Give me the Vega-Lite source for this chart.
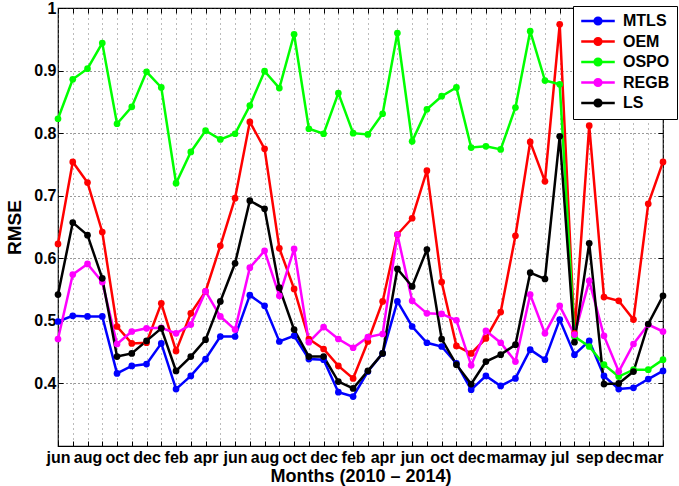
{
  "$schema": "https://vega.github.io/schema/vega-lite/v6.json",
  "width": 605,
  "height": 438,
  "autosize": {"type": "none"},
  "padding": {"left": 58, "top": 8, "right": 16, "bottom": 40},
  "background": "white",
  "config": {
    "view": {"stroke": "black", "strokeWidth": 1.2},
    "font": "Liberation Sans"
  },
  "data": {
    "values": [
      {"i": 0, "MTLS": 0.499, "OEM": 0.623, "OSPO": 0.823, "REGB": 0.471, "LS": 0.542},
      {"i": 1, "MTLS": 0.508, "OEM": 0.754, "OSPO": 0.886, "REGB": 0.574, "LS": 0.657},
      {"i": 2, "MTLS": 0.507, "OEM": 0.721, "OSPO": 0.903, "REGB": 0.591, "LS": 0.637},
      {"i": 3, "MTLS": 0.507, "OEM": 0.642, "OSPO": 0.944, "REGB": 0.562, "LS": 0.568},
      {"i": 4, "MTLS": 0.416, "OEM": 0.491, "OSPO": 0.815, "REGB": 0.463, "LS": 0.443},
      {"i": 5, "MTLS": 0.428, "OEM": 0.464, "OSPO": 0.842, "REGB": 0.483, "LS": 0.448},
      {"i": 6, "MTLS": 0.431, "OEM": 0.465, "OSPO": 0.898, "REGB": 0.488, "LS": 0.468},
      {"i": 7, "MTLS": 0.464, "OEM": 0.528, "OSPO": 0.873, "REGB": 0.489, "LS": 0.488},
      {"i": 8, "MTLS": 0.391, "OEM": 0.452, "OSPO": 0.720, "REGB": 0.480, "LS": 0.420},
      {"i": 9, "MTLS": 0.412, "OEM": 0.512, "OSPO": 0.770, "REGB": 0.494, "LS": 0.443},
      {"i": 10, "MTLS": 0.439, "OEM": 0.547, "OSPO": 0.804, "REGB": 0.547, "LS": 0.470},
      {"i": 11, "MTLS": 0.475, "OEM": 0.620, "OSPO": 0.790, "REGB": 0.507, "LS": 0.531},
      {"i": 12, "MTLS": 0.475, "OEM": 0.696, "OSPO": 0.799, "REGB": 0.486, "LS": 0.592},
      {"i": 13, "MTLS": 0.541, "OEM": 0.818, "OSPO": 0.844, "REGB": 0.585, "LS": 0.692},
      {"i": 14, "MTLS": 0.524, "OEM": 0.775, "OSPO": 0.899, "REGB": 0.612, "LS": 0.679},
      {"i": 15, "MTLS": 0.467, "OEM": 0.616, "OSPO": 0.872, "REGB": 0.540, "LS": 0.553},
      {"i": 16, "MTLS": 0.476, "OEM": 0.551, "OSPO": 0.958, "REGB": 0.615, "LS": 0.486},
      {"i": 17, "MTLS": 0.439, "OEM": 0.471, "OSPO": 0.807, "REGB": 0.466, "LS": 0.443},
      {"i": 18, "MTLS": 0.438, "OEM": 0.455, "OSPO": 0.799, "REGB": 0.490, "LS": 0.443},
      {"i": 19, "MTLS": 0.386, "OEM": 0.428, "OSPO": 0.864, "REGB": 0.471, "LS": 0.403},
      {"i": 20, "MTLS": 0.379, "OEM": 0.408, "OSPO": 0.800, "REGB": 0.457, "LS": 0.392},
      {"i": 21, "MTLS": 0.419, "OEM": 0.467, "OSPO": 0.798, "REGB": 0.474, "LS": 0.420},
      {"i": 22, "MTLS": 0.448, "OEM": 0.531, "OSPO": 0.831, "REGB": 0.479, "LS": 0.448},
      {"i": 23, "MTLS": 0.531, "OEM": 0.638, "OSPO": 0.960, "REGB": 0.638, "LS": 0.583},
      {"i": 24, "MTLS": 0.491, "OEM": 0.664, "OSPO": 0.787, "REGB": 0.532, "LS": 0.555},
      {"i": 25, "MTLS": 0.465, "OEM": 0.740, "OSPO": 0.838, "REGB": 0.512, "LS": 0.614},
      {"i": 26, "MTLS": 0.459, "OEM": 0.562, "OSPO": 0.859, "REGB": 0.511, "LS": 0.471},
      {"i": 27, "MTLS": 0.432, "OEM": 0.460, "OSPO": 0.873, "REGB": 0.501, "LS": 0.430},
      {"i": 28, "MTLS": 0.390, "OEM": 0.448, "OSPO": 0.777, "REGB": 0.429, "LS": 0.399},
      {"i": 29, "MTLS": 0.412, "OEM": 0.472, "OSPO": 0.779, "REGB": 0.484, "LS": 0.435},
      {"i": 30, "MTLS": 0.396, "OEM": 0.514, "OSPO": 0.774, "REGB": 0.465, "LS": 0.446},
      {"i": 31, "MTLS": 0.408, "OEM": 0.636, "OSPO": 0.841, "REGB": 0.435, "LS": 0.462},
      {"i": 32, "MTLS": 0.454, "OEM": 0.786, "OSPO": 0.963, "REGB": 0.542, "LS": 0.577},
      {"i": 33, "MTLS": 0.438, "OEM": 0.723, "OSPO": 0.884, "REGB": 0.480, "LS": 0.567},
      {"i": 34, "MTLS": 0.502, "OEM": 0.974, "OSPO": 0.878, "REGB": 0.524, "LS": 0.795},
      {"i": 35, "MTLS": 0.446, "OEM": 0.480, "OSPO": 0.475, "REGB": 0.478, "LS": 0.466},
      {"i": 36, "MTLS": 0.468, "OEM": 0.812, "OSPO": 0.459, "REGB": 0.564, "LS": 0.624},
      {"i": 37, "MTLS": 0.412, "OEM": 0.538, "OSPO": 0.430, "REGB": 0.476, "LS": 0.399},
      {"i": 38, "MTLS": 0.391, "OEM": 0.532, "OSPO": 0.411, "REGB": 0.419, "LS": 0.400},
      {"i": 39, "MTLS": 0.393, "OEM": 0.502, "OSPO": 0.422, "REGB": 0.463, "LS": 0.419},
      {"i": 40, "MTLS": 0.407, "OEM": 0.687, "OSPO": 0.422, "REGB": 0.494, "LS": 0.495},
      {"i": 41, "MTLS": 0.420, "OEM": 0.754, "OSPO": 0.438, "REGB": 0.483, "LS": 0.540}
    ]
  },
  "transform": [
    {"fold": ["MTLS", "OEM", "OSPO", "REGB", "LS"], "as": ["series", "rmse"]}
  ],
  "layer": [
    {
      "mark": {"type": "line", "strokeWidth": 2.5, "point": {"filled": true, "size": 45, "opacity": 1}},
      "encoding": {
        "x": {
          "field": "i",
          "type": "quantitative",
          "scale": {"domain": [0, 41], "nice": false, "zero": false},
          "axis": {
            "orient": "bottom",
            "values": [0,1,2,3,4,5,6,7,8,9,10,11,12,13,14,15,16,17,18,19,20,21,22,23,24,25,26,27,28,29,30,31,32,33,34,35,36,37,38,39,40,41],
            "labelExpr": "datum.value % 2 == 0 ? ['jun','aug','oct','dec','feb','apr','jun','aug','oct','dec','feb','apr','jun','oct','dec','mar','may','jul','sep','dec','mar'][datum.value / 2] : ''",
            "title": "Months (2010 \u2013 2014)",
            "titleFont": "Liberation Sans",
            "titleFontSize": 18,
            "titleFontWeight": "bold",
            "titleColor": "black",
            "titleBaseline": "alphabetic",
            "titleY": 35,
            "labelFont": "Liberation Sans",
            "labelFontSize": 16,
            "labelFontWeight": "bold",
            "labelColor": "black",
            "labelPadding": 8,
            "labelOverlap": false,
            "labelFlush": false,
            "domain": false,
            "ticks": true,
            "tickSize": -5,
            "tickColor": "black",
            "grid": true,
            "gridDash": [1, 4],
            "gridColor": "#777777",
            "gridWidth": 1
          }
        },
        "y": {
          "field": "rmse",
          "type": "quantitative",
          "scale": {"domain": [0.3, 1.0], "nice": false, "zero": false},
          "axis": {
            "orient": "left",
            "values": [0.4, 0.5, 0.6, 0.7, 0.8, 0.9, 1.0],
            "format": ".1~f",
            "title": "RMSE",
            "titleFont": "Liberation Sans",
            "titleFontSize": 19,
            "titleFontWeight": "bold",
            "titleColor": "black",
            "titlePadding": 9,
            "labelFont": "Liberation Sans",
            "labelFontSize": 16,
            "labelFontWeight": "bold",
            "labelColor": "black",
            "labelPadding": 7,
            "labelFlush": false,
            "domain": false,
            "ticks": true,
            "tickSize": -5,
            "tickColor": "black",
            "grid": true,
            "gridDash": [1, 3],
            "gridColor": "#333333",
            "gridWidth": 1
          }
        },
        "color": {
          "field": "series",
          "type": "nominal",
          "sort": ["MTLS", "OEM", "OSPO", "REGB", "LS"],
          "scale": {
            "domain": ["MTLS", "OEM", "OSPO", "REGB", "LS"],
            "range": ["#0000ff", "#ff0000", "#00ff00", "#ff00ff", "#000000"]
          },
          "legend": {
            "title": null,
            "orient": "none",
            "legendX": 515,
            "legendY": -2,
            "fillColor": "white",
            "strokeColor": "black",
            "padding": 7,
            "rowPadding": 2.5,
            "symbolType": "M-2.5,0H2.5M-0.5,0A0.5,0.5,0,1,0,0.5,0A0.5,0.5,0,1,0,-0.5,0Z",
            "symbolSize": 180,
            "symbolOffset": 10,
            "symbolStrokeWidth": 2.5,
            "labelFont": "Liberation Sans",
            "labelFontSize": 16,
            "labelFontWeight": "bold",
            "labelColor": "black",
            "labelOffset": 17,
            "encode": {
              "symbols": {"update": {"fill": {"scale": "color", "field": "value"}, "stroke": {"scale": "color", "field": "value"}, "opacity": {"value": 1}}}
            }
          }
        },
        "order": {"field": "i", "type": "quantitative"}
      }
    },
    {
      "mark": {"type": "point", "opacity": 0},
      "encoding": {
        "x": {
          "field": "i",
          "type": "quantitative",
          "axis": {
            "orient": "top",
            "values": [0,1,2,3,4,5,6,7,8,9,10,11,12,13,14,15,16,17,18,19,20,21,22,23,24,25,26,27,28,29,30,31,32,33,34,35,36,37,38,39,40,41],
            "labels": false,
            "title": null,
            "domain": false,
            "grid": false,
            "tickSize": -5,
            "tickColor": "black"
          }
        },
        "y": {
          "field": "rmse",
          "type": "quantitative",
          "axis": {
            "orient": "right",
            "values": [0.4, 0.5, 0.6, 0.7, 0.8, 0.9, 1.0],
            "labels": false,
            "title": null,
            "domain": false,
            "grid": false,
            "tickSize": -5,
            "tickColor": "black"
          }
        }
      }
    }
  ],
  "resolve": {"axis": {"x": "independent", "y": "independent"}}
}
